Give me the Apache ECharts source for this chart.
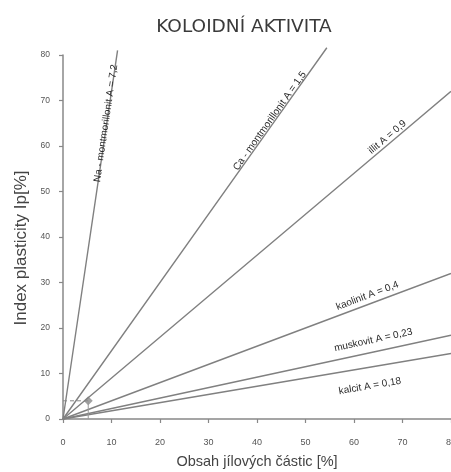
<!DOCTYPE html>
<html><head><meta charset="utf-8">
<script src="https://cdn.jsdelivr.net/npm/echarts@6/dist/echarts.min.js"></script>
<style>html,body{margin:0;padding:0;background:#fff}#c{width:451px;height:472px}</style>
</head><body><div id="c"></div><script>
const titleText = 'KOLOIDNÍ AKTIVITA';
const xName = 'Obsah jílových částic [%]';
const yName = 'Index plasticity Ip[%]';
const minerals = ['Na - montmorillonit', 'Ca - montmorillonit', 'illit', 'kaolinit', 'muskovit', 'kalcit'];
const activity = [7.2, 1.5, 0.9, 0.4, 0.23, 0.18];
const activityText = ['7,2', '1,5', '0,9', '0,4', '0,23', '0,18'];
const lineEndX = [11.25, 54.4, 80, 80, 80, 80];
const labelX = [9.2, 44, 68.5, 64, 65, 62];
const labelGap = [6, 7, 8, 9, 12, -19];
const samplePoint = [5.2, 4];

const narrow = '"Liberation Sans Narrow", "Arial Narrow", "Liberation Sans", sans-serif';
const chart = echarts.init(document.getElementById('c'), null, {renderer: 'canvas'});

function buildSeries(angles) {
  const s = minerals.map((m, i) => {
    const a = activity[i];
    const lx = labelX[i];
    let label = {show: false};
    if (angles) {
      const th = angles[i];
      const d = labelGap[i];
      label = {
        show: true,
        position: 'inside',
        formatter: m + ' A = ' + activityText[i],
        rotate: th * 180 / Math.PI,
        offset: [-Math.sin(th) * d, -Math.cos(th) * d],
        fontFamily: narrow,
        fontSize: 10,
        color: '#2a2a2a'
      };
    }
    return {
      type: 'line',
      name: m,
      clip: false,
      symbol: 'circle',
      symbolSize: 0.01,
      showSymbol: true,
      silent: true,
      lineStyle: {color: '#808080', width: 1.4},
      itemStyle: {color: 'rgba(0,0,0,0)'},
      data: [
        {value: [0, 0], label: {show: false}},
        {value: [lx, a * lx], label: label},
        {value: [lineEndX[i], a * lineEndX[i]], label: {show: false}}
      ]
    };
  });
  s.push({
    type: 'line', symbol: 'none', silent: true,
    lineStyle: {color: '#888', width: 1, type: [4, 3]},
    data: [[0, samplePoint[1]], samplePoint]
  });
  s.push({
    type: 'line', symbol: 'none', silent: true,
    lineStyle: {color: '#999', width: 1},
    data: [samplePoint, [samplePoint[0], 0]]
  });
  s.push({
    type: 'scatter', silent: true, symbol: 'diamond', symbolSize: 9,
    itemStyle: {color: '#8a8a8a'},
    data: [samplePoint]
  });
  return s;
}

const axisCommon = {
  min: 0, max: 80, interval: 10,
  axisLine: {show: true, lineStyle: {color: '#888', width: 1.5}},
  axisTick: {show: true, length: 4, lineStyle: {color: '#888', width: 1.2}},
  splitLine: {show: false},
  nameLocation: 'middle'
};

chart.setOption({
  animation: false,
  backgroundColor: '#fff',
  title: {
    text: titleText, left: 239, top: 13, textAlign: 'center',
    textStyle: {fontFamily: '"DejaVu Sans", sans-serif', fontWeight: 'normal', fontSize: 18.5, color: '#3a3a3a'}
  },
  grid: {left: 63, right: 0, top: 55, bottom: 53, containLabel: false, outerBoundsMode: 'none'},
  xAxis: Object.assign({}, axisCommon, {
    type: 'value', name: xName, nameGap: 35,
    nameTextStyle: {fontFamily: '"Liberation Sans", Arial, sans-serif', fontSize: 14.5, color: '#444'},
    axisLabel: {margin: 19, fontSize: 9, color: '#555', fontFamily: narrow}
  }),
  yAxis: Object.assign({}, axisCommon, {
    type: 'value', name: yName, nameGap: 32,
    nameTextStyle: {fontFamily: '"Liberation Sans", Arial, sans-serif', fontSize: 17, color: '#444', padding: [0, 22, 0, 0]},
    axisLabel: {margin: 13, fontSize: 8.5, color: '#555', fontFamily: narrow}
  }),
  series: buildSeries(null)
});

const angles = activity.map(a => {
  const p0 = chart.convertToPixel({gridIndex: 0}, [0, 0]);
  const p1 = chart.convertToPixel({gridIndex: 0}, [10, 10 * a]);
  return Math.atan2(p0[1] - p1[1], p1[0] - p0[0]);
});
chart.setOption({series: buildSeries(angles)});
</script></body></html>
